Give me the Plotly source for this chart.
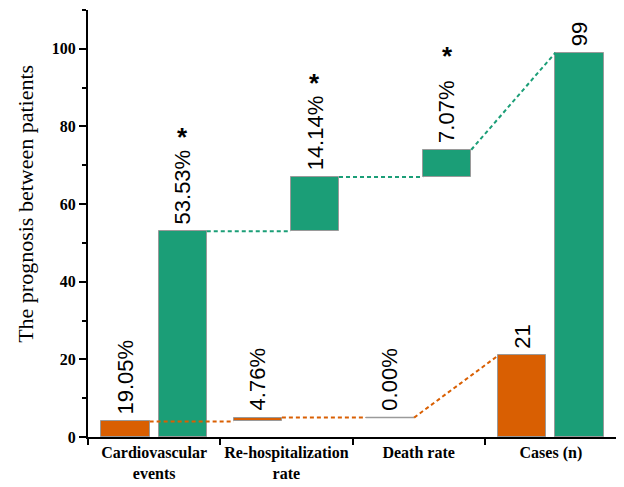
import plotly.graph_objects as go

categories = ["Cardiovascular<br>events", "Re-hospitalization<br>rate", "Death rate", "Cases (n)"]
orange_inc = [4, 1, 0]
orange_total = 21
green_inc = [53, 14, 7]
green_total = 99
orange_labels = ["19.05%", "4.76%", "0.00%", "21"]
green_labels = ["53.53%", "14.14%", "7.07%", "99"]
green_sig = [True, True, True, False]
y_ticks = [0, 20, 40, 60, 80, 100]

ORANGE = "#D95F02"
GREEN = "#1B9E77"
OUTLINE = "#9a9a9a"
OFF = 0.216
W = 0.364


def waterfall(inc, total):
    bases, heights = [], []
    cum = 0
    for v in inc:
        bases.append(cum)
        heights.append(v)
        cum += v
    bases.append(0)
    heights.append(total)
    return bases, heights


fig = go.Figure()
xs = list(range(len(categories)))

for inc, total, color, off, labels in [
    (orange_inc, orange_total, ORANGE, -OFF, orange_labels),
    (green_inc, green_total, GREEN, OFF, green_labels),
]:
    bases, heights = waterfall(inc, total)
    bx = [x + off for x in xs]
    fig.add_trace(go.Bar(x=bx, y=heights, base=bases, width=W,
                         marker=dict(color=color, line=dict(color=OUTLINE, width=1)),
                         showlegend=False, hoverinfo="skip"))
    # zero-height bars drawn as thin gray lines
    for i, h in enumerate(heights):
        if h == 0:
            fig.add_trace(go.Scatter(x=[bx[i] - W / 2, bx[i] + W / 2], y=[bases[i], bases[i]],
                                     mode="lines", line=dict(color=OUTLINE, width=1.5),
                                     showlegend=False, hoverinfo="skip"))
    # connectors
    for i in range(len(xs) - 1):
        y0 = bases[i] + heights[i]
        nxt_is_total = (i + 1 == len(xs) - 1)
        y1 = bases[i + 1] + heights[i + 1] if nxt_is_total else bases[i + 1]
        fig.add_trace(go.Scatter(x=[bx[i] + W / 2, bx[i + 1] - W / 2], y=[y0, y1],
                                 mode="lines", line=dict(color=color, width=2, dash="4px,3px"),
                                 showlegend=False, hoverinfo="skip"))
    # labels
    for i, lab in enumerate(labels):
        top = bases[i] + heights[i]
        fig.add_annotation(x=bx[i], y=top, text=lab, showarrow=False, textangle=-90,
                           xanchor="center", yanchor="bottom", yshift=5,
                           font=dict(family="Liberation Sans, Arial", size=22, color="black"))
    if color == GREEN:
        for i, s in enumerate(green_sig):
            if s:
                top = bases[i] + heights[i]
                fig.add_annotation(x=bx[i], y=top, text="<b>*</b>", showarrow=False,
                                   xanchor="center", yanchor="middle", yshift=94,
                                   font=dict(family="Liberation Sans, Arial", size=26, color="black"))

fig.add_annotation(xref="paper", yref="paper", x=-0.118, y=0.545,
                   text="The prognosis between patients", showarrow=False, textangle=-90,
                   xanchor="center", yanchor="middle",
                   font=dict(family="Liberation Serif, Times New Roman", size=22, color="black"))

fig.update_layout(
    width=616, height=479,
    margin=dict(l=80, r=7, t=2, b=50),
    plot_bgcolor="white", paper_bgcolor="white",
    bargap=0,
    xaxis=dict(range=[-0.5, 3.5], tickvals=xs, ticktext=categories, ticks="",
               showgrid=False, zeroline=False, showline=True, linecolor="black", linewidth=2,
               minor=dict(ticks="outside", tick0=-0.5, dtick=1, ticklen=6, tickwidth=2,
                          tickcolor="black", showgrid=False),
               tickfont=dict(family="Liberation Serif, Times New Roman", size=16, color="black",
                             weight="bold")),
    yaxis=dict(range=[0, 110], tickvals=y_ticks, ticks="outside", ticklen=7, tickwidth=2,
               tickcolor="black", showgrid=False, zeroline=False, showline=True,
               linecolor="black", linewidth=2,
               minor=dict(ticks="outside", dtick=10, tick0=0, ticklen=4, tickwidth=2,
                          tickcolor="black", showgrid=False),
               tickfont=dict(family="Liberation Serif, Times New Roman", size=16, color="black",
                             weight="bold")),
)

fig.write_html("out.html")
